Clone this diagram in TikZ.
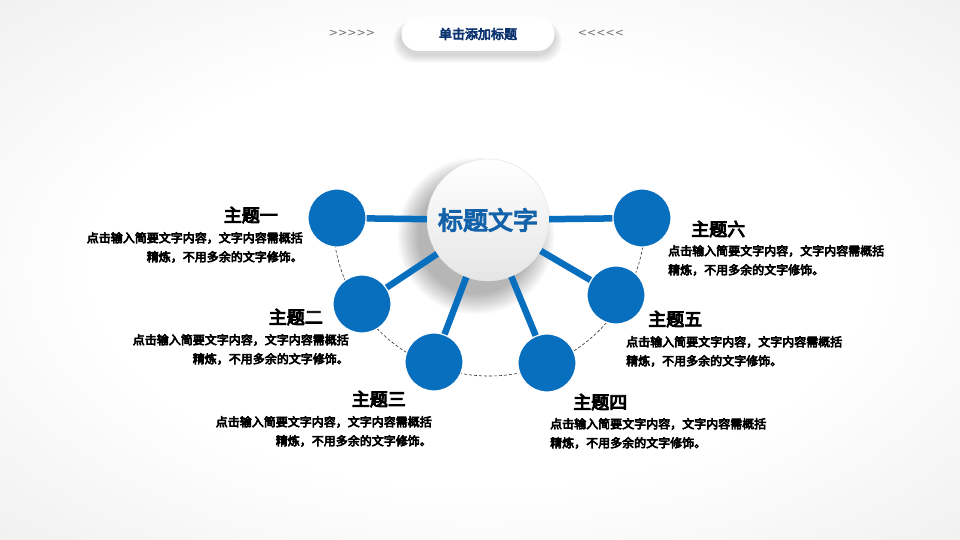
\documentclass[tikz,border=0pt]{standalone}
\usepackage{fontspec}
\usetikzlibrary{positioning}
\newfontfamily\cjk{Noto Sans CJK SC}[FakeBold=5]
\newfontfamily\arrowfont{DejaVu Sans}
\definecolor{topicblue}{RGB}{8,110,190}
\definecolor{titleblue}{RGB}{20,98,170}
\definecolor{headblue}{RGB}{12,52,112}
\pgfdeclareradialshading{bgshade}{\pgfpoint{0bp}{0bp}}{color(0bp)=(white); color(20bp)=(white); color(50bp)=(black!11); color(72bp)=(black!16)}

\begin{document}
\begin{tikzpicture}[x = 1pt, y = -1pt,
  topic/.style = {circle, fill = topicblue, draw = white, line width = 1.2pt, minimum size = 58pt, inner sep = 0pt},
  spoke/.style = {topicblue, line width = 6.5pt},
  heading/.style = {font = \fontsize{18}{20}\selectfont\cjk, inner sep = 0pt},
  body/.style = {font = \fontsize{12}{19}\selectfont\cjk, inner sep = 0pt},
  ring/.style = {densely dashed, line width = 0.6pt, black!80}]

\useasboundingbox (0,0) rectangle (960,540);
\shade[shading = bgshade] (0,0) rectangle (960,540);

% title bar
\foreach \k in {1,...,8}
  \fill[black, opacity = 0.02, rounded corners = 20pt] (401-\k,21) rectangle (554+\k,55+\k);
\node[fill = white, shape = rectangle, rounded corners = 17pt, minimum width = 153pt, minimum height = 34pt, font = \fontsize{13}{15}\selectfont\cjk, text = headblue] (title) at (478,34) {单击添加标题};
\node[font = \fontsize{11}{12}\selectfont\arrowfont, text = black!55, inner sep = 0pt] (arrl) at (352,33) {>>>>>};
\node[font = \fontsize{11}{12}\selectfont\arrowfont, text = black!55, inner sep = 0pt] (arrr) at (601,33) {<<<<<};

% dashed ring through the topics
\draw[ring] (489,220) ++(180:156) arc (180:0:156);

% shadow of the middle disc
\foreach \k in {1,...,10}
  \fill[black, opacity = 0.03] (476,236) circle (56+\k*2.2);

% topics
\node[topic] (t1) at (337,218) {};
\node[topic] (t2) at (362,304) {};
\node[topic] (t3) at (434,362) {};
\node[topic] (t4) at (547,363) {};
\node[topic] (t5) at (616,295) {};
\node[topic] (t6) at (642,218) {};

\node[circle, minimum size = 122pt, inner sep = 0pt, top color = white, bottom color = black!10, draw = black!12, font = \fontsize{25}{27}\selectfont\cjk, text = titleblue] (center) at (488,220) {标题文字};

\foreach \t in {t1,t2,t3,t4,t5,t6}
  \draw[spoke] (center) -- (\t);

% labels
\node[heading, anchor = east] (h1) at (278,215) {主题一};
\node[body, align = right, anchor = north east] (b1) at (303,232) {点击输入简要文字内容，文字内容需概括\\精炼，不用多余的文字修饰。};
\node[heading, anchor = east] (h2) at (323,317) {主题二};
\node[body, align = right, anchor = north east] (b2) at (349,334) {点击输入简要文字内容，文字内容需概括\\精炼，不用多余的文字修饰。};
\node[heading, anchor = east] (h3) at (406,399) {主题三};
\node[body, align = right, anchor = north east] (b3) at (432,416) {点击输入简要文字内容，文字内容需概括\\精炼，不用多余的文字修饰。};
\node[heading, anchor = west] (h4) at (573,402) {主题四};
\node[body, align = left, anchor = north west] (b4) at (550,418) {点击输入简要文字内容，文字内容需概括\\精炼，不用多余的文字修饰。};
\node[heading, anchor = west] (h5) at (648,319) {主题五};
\node[body, align = left, anchor = north west] (b5) at (626,336) {点击输入简要文字内容，文字内容需概括\\精炼，不用多余的文字修饰。};
\node[heading, anchor = west] (h6) at (691,229) {主题六};
\node[body, align = left, anchor = north west] (b6) at (668,245) {点击输入简要文字内容，文字内容需概括\\精炼，不用多余的文字修饰。};
\end{tikzpicture}
\end{document}
